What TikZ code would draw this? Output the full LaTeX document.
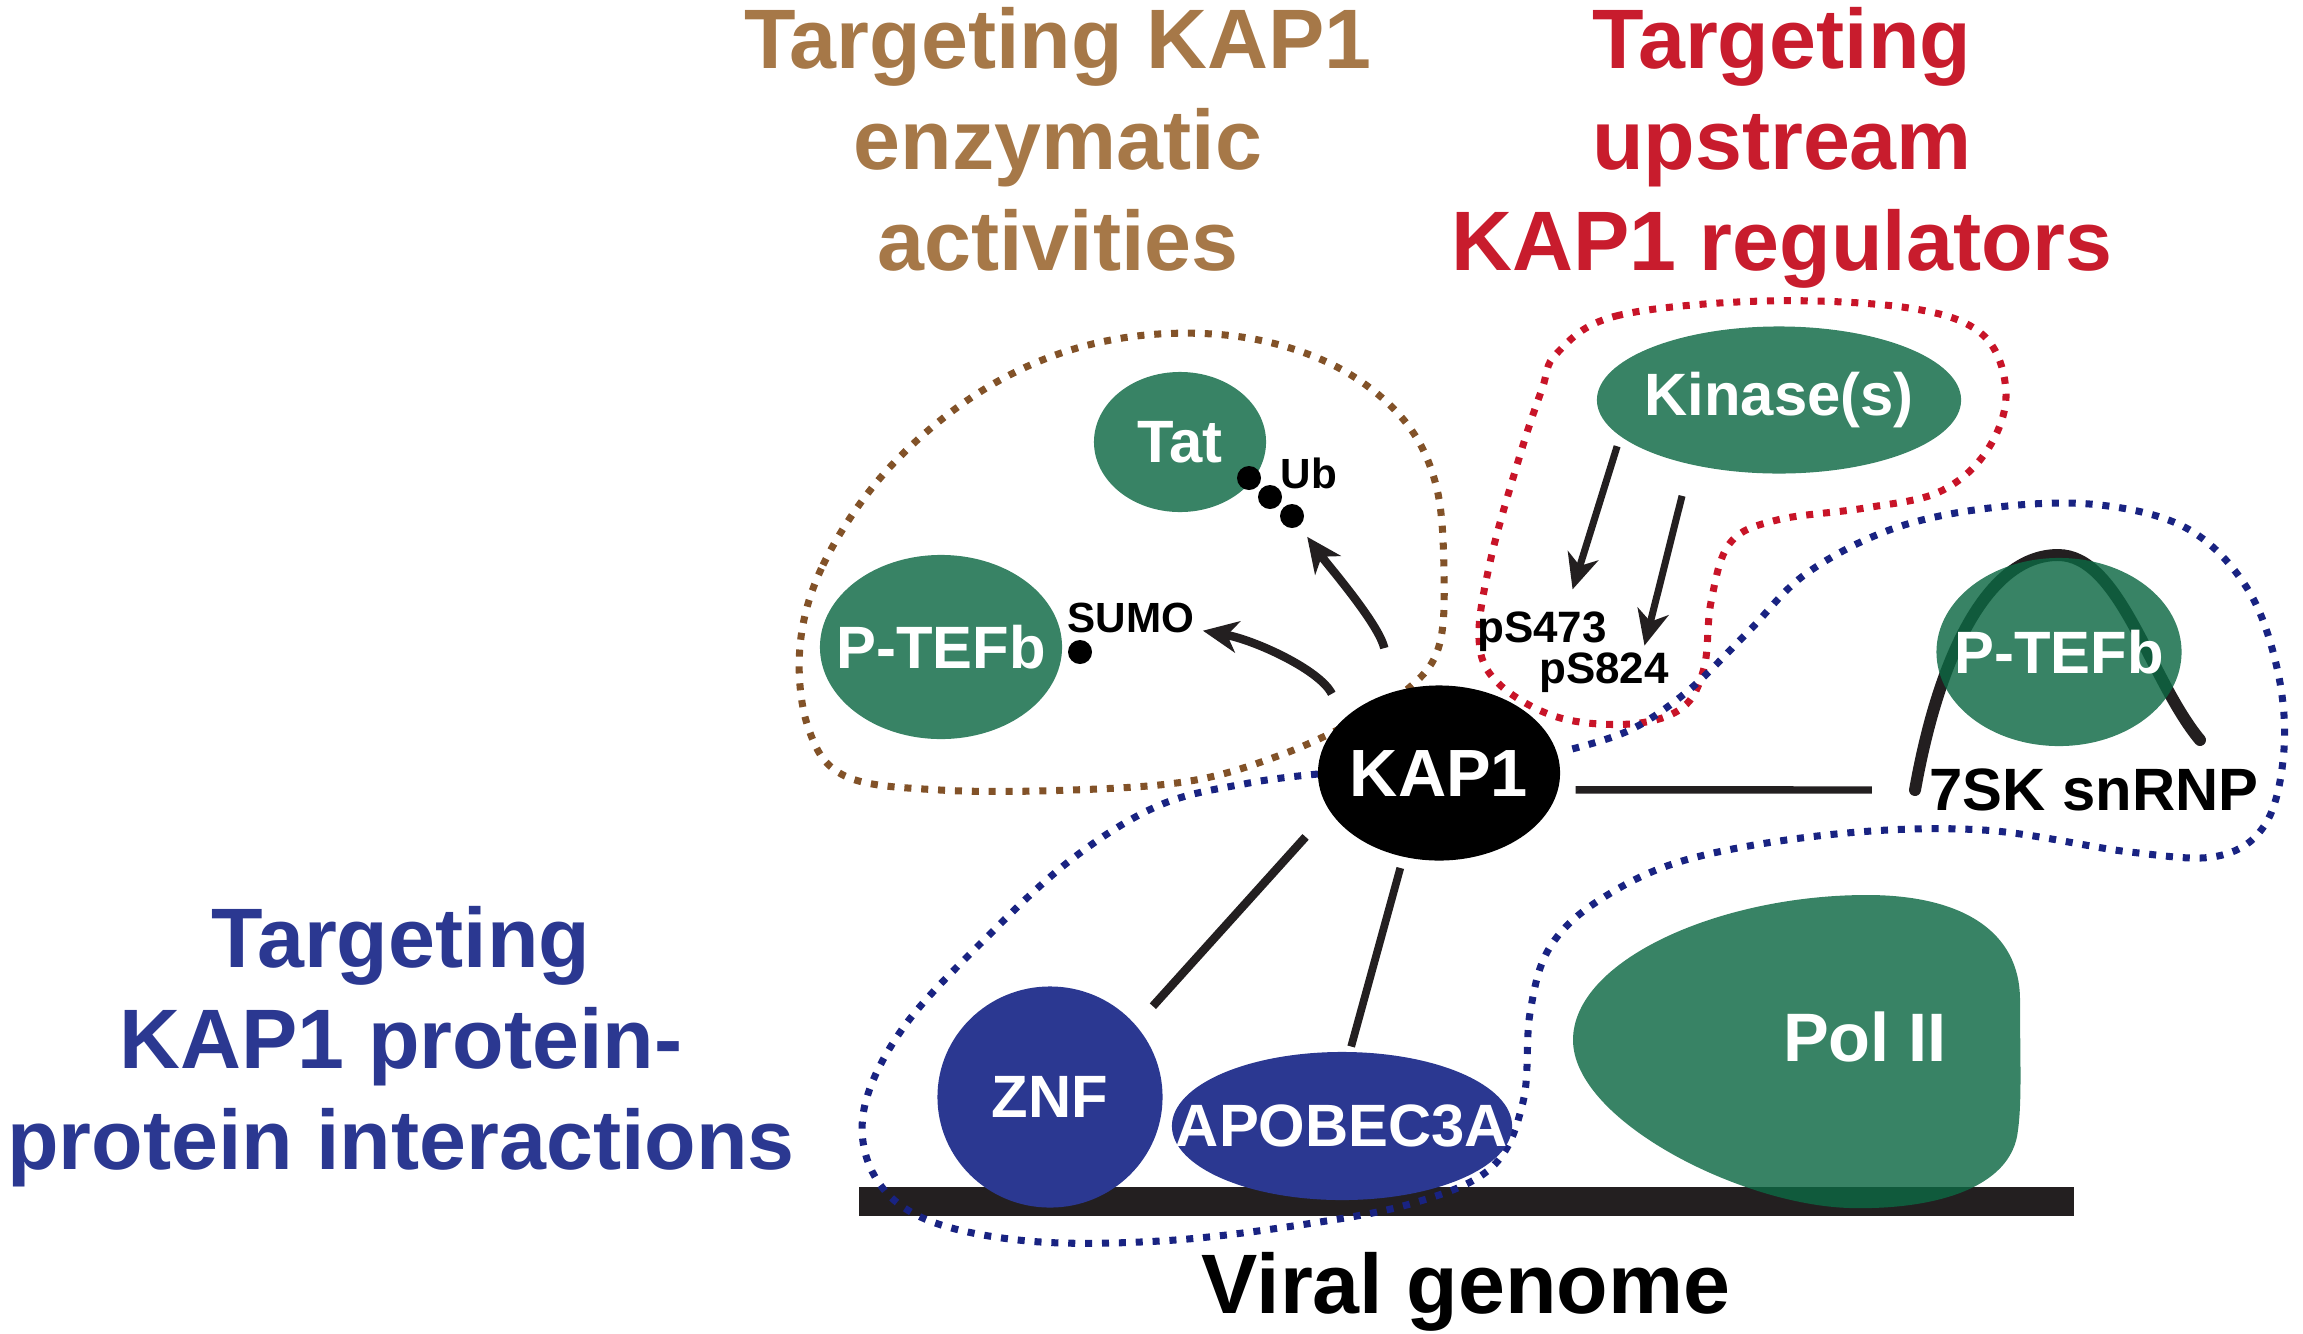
\documentclass[tikz,border=0pt]{standalone}
\usepackage{fontspec}
\setmainfont{Liberation Sans}
\usetikzlibrary{arrows.meta,shapes.geometric}
\definecolor{gfill}{RGB}{12,104,67}
\definecolor{bfill}{RGB}{43,56,145}
\definecolor{navy}{RGB}{25,35,130}
\definecolor{browndot}{RGB}{130,82,40}
\definecolor{browntxt}{RGB}{166,120,72}
\definecolor{redtxt}{RGB}{200,28,45}
\definecolor{reddot}{RGB}{200,20,40}
\definecolor{ink}{RGB}{35,31,32}
\begin{document}
\begin{tikzpicture}[x=0.01cm,y=-0.01cm,
  greenblob/.style={ellipse, fill=gfill, fill opacity=0.82, text opacity=1, text=white, inner sep=0pt, font=\bfseries\fontsize{17}{20}\selectfont},
  blueblob/.style={ellipse, fill=bfill, text=white, inner sep=0pt, font=\bfseries\fontsize{17}{20}\selectfont},
  dotline/.style={line width=2pt, dash pattern=on 2pt off 2.8pt},
  title/.style={align=center, inner sep=0pt, anchor=north, font=\bfseries\fontsize{24}{28.7}\selectfont},
  small/.style={inner sep=0pt, font=\bfseries\fontsize{12}{14}\selectfont},
  link/.style={draw=ink, line width=2.4pt},
  arr/.style={draw=ink, line width=2pt, -{Stealth[length=10pt,width=9pt,inset=3pt]}},
  blackdot/.style={circle, fill=black, inner sep=0pt, minimum size=0.24cm}
]
\useasboundingbox (0,0) rectangle (2303,1333);

% titles
\node[title, text=browntxt] (t1) at (1058,7) {Targeting KAP1\\enzymatic\\activities};
\node[title, text=redtxt] (t2) at (1782,7) {Targeting\\upstream\\KAP1 regulators};
\node[title, text=bfill] (t3) at (401,906) {Targeting\\KAP1 protein-\\protein interactions};

% viral genome bar
\fill[ink] (859,1187) rectangle (2074,1216);
\node[anchor=base, inner sep=0pt, font=\bfseries\fontsize{24}{28}\selectfont] (vg) at (1466,1313) {Viral genome};

% dotted regions
\draw[dotline, browndot] plot[smooth cycle, tension=0.6] coordinates {
 (800,646) (823,565) (881,477) (962,404) (1050,357) (1146,335) (1248,338) (1337,367)
 (1403,419) (1436,485) (1444,573) (1439,646) (1410,687) (1351,723) (1278,756)
 (1190,781) (1072,790) (940,790) (845,776) (808,727)};
\draw[dotline, reddot] plot[smooth cycle, tension=0.6] coordinates {
 (1557,353) (1616,316) (1763,301) (1909,308) (1983,335) (2006,394) (1986,452)
 (1939,492) (1865,508) (1777,520) (1730,543) (1711,602) (1704,668) (1682,708)
 (1630,724) (1557,717) (1498,683) (1479,639) (1491,558) (1520,455) (1542,389)};
\draw[dotline, navy] plot[smooth, tension=0.6] coordinates {
 (1318,774) (1249,783) (1160,805) (1072,859) (984,940) (903,1028) (864,1109)
 (874,1175) (925,1219) (1028,1241) (1160,1241) (1293,1226) (1410,1204) (1491,1168)
 (1523,1102) (1530,1013) (1550,947) (1601,899) (1689,859) (1836,834) (1983,830)
 (2130,852) (2218,856) (2266,823) (2284,749) (2277,668) (2247,588) (2188,529)
 (2100,505) (1998,507) (1895,528) (1807,573) (1748,632) (1689,690) (1630,730) (1564,751)};

% 7SK RNA arc
\draw[ink, line width=3.4pt, line cap=round] (1915,790) .. controls (1940,650) and (1990,555) .. (2058,555)
  .. controls (2120,555) and (2150,680) .. (2200,740);

% Pol II
\fill[gfill, fill opacity=0.82] (1867,895) .. controls (1960,895) and (2020,930) .. (2020,1000)
  .. controls (2020,1060) and (2022,1100) .. (2018,1130)
  .. controls (2012,1190) and (1930,1210) .. (1850,1208)
  .. controls (1740,1205) and (1573,1120) .. (1573,1040)
  .. controls (1573,960) and (1720,895) .. (1867,895) -- cycle;
\node[inner sep=0pt, text=white, font=\bfseries\fontsize{19.5}{22}\selectfont] (polii) at (1865,1037) {Pol II};

% nodes
\node[greenblob, minimum width=1.72cm, minimum height=1.40cm] (tat) at (1180,442) {\makebox[0pt]{Tat}};
\node[greenblob, minimum width=2.42cm, minimum height=1.84cm] (ptefbL) at (941,647) {\makebox[0pt]{P-TEFb}};
\node[greenblob, minimum width=3.64cm, minimum height=1.47cm] (kinase) at (1779,400) {\makebox[0pt]{Kinase(s)}};
\node[greenblob, minimum width=2.45cm, minimum height=1.88cm] (ptefbR) at (2059,652) {\makebox[0pt]{P-TEFb}};
\node[ellipse, fill=black, text=white, inner sep=0pt, minimum width=2.42cm, minimum height=1.75cm,
      font=\bfseries\fontsize{19}{22}\selectfont] (kap1) at (1439,773) {\makebox[0pt]{KAP1}};
\node[blueblob, minimum width=2.25cm, minimum height=2.21cm] (znf) at (1050,1097) {\makebox[0pt]{ZNF}};
\node[blueblob, minimum width=3.40cm, minimum height=1.48cm] (apobec) at (1342,1126) {\makebox[0pt]{APOBEC3A}};

\node[inner sep=0pt, font=\bfseries\fontsize{17}{20}\selectfont] (sevensk) at (2094,790) {7SK snRNP};

% modification dots and labels
\node[blackdot] (ub1) at (1249,478) {};
\node[blackdot] (ub2) at (1270,497) {};
\node[blackdot] (ub3) at (1292,516) {};
\node[small] (ub) at (1309,473) {Ub};
\node[blackdot] (sumodot) at (1080,652) {};
\node[small] (sumo) at (1131,618) {SUMO};
\node[small, font=\bfseries\fontsize{12.5}{14}\selectfont] (ps473) at (1542,632) {pS473};
\node[small, font=\bfseries\fontsize{12.5}{14}\selectfont] (ps824) at (1604,673) {pS824};

% connectors
\draw[link, shorten <=0.35cm, shorten >=0.25cm] (kap1.199) -- (znf.40);
\draw[link, line width=2.2pt, shorten <=0.11cm, shorten >=0.05cm] (kap1.247) -- (apobec.84);
\draw[link, line width=2.1pt, shorten <=0.17cm, shorten >=0.57cm] (kap1.352) -- (sevensk.west);

\draw[arr, shorten <=0.10cm, shorten >=0.23cm] (kinase.193) -- (ps473.41);
\draw[arr, shorten <=0.32cm, shorten >=0.07cm] (kinase.216) -- (ps824.28);

\draw[arr, line width=2.4pt, shorten <=0.44cm, shorten >=0.13cm] (kap1.119) .. controls (1379,624) and (1327,564) .. (ub3);
\draw[arr, line width=2.4pt, shorten <=0.27cm, shorten >=0.08cm] (kap1.150) .. controls (1320,670) and (1255,640) .. (sumo.350);
\end{tikzpicture}
\end{document}
